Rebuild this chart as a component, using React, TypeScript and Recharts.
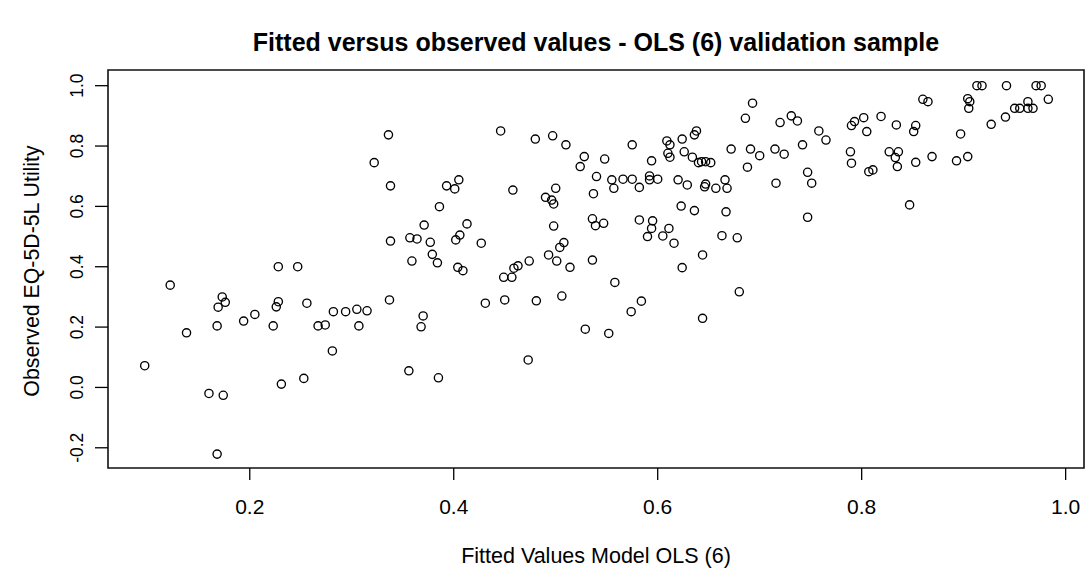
import React from "react";
import { ScatterChart, Scatter, XAxis, YAxis, ReferenceArea } from "recharts";

document.body.style.margin = "0";

const FONT = "'Liberation Sans', Arial, Helvetica, sans-serif";

const fitted = [
  0.122, 0.097, 0.138, 0.173, 0.169, 0.176, 0.168, 0.194, 0.205, 0.228, 0.226, 0.223, 0.256,
  0.267, 0.274, 0.282, 0.294, 0.281, 0.253, 0.231, 0.160, 0.174, 0.168, 0.228, 0.247,
  0.305, 0.315, 0.307, 0.337, 0.370, 0.368, 0.356, 0.385, 0.431, 0.450, 0.481, 0.506, 0.529,
  0.473, 0.449, 0.457, 0.558, 0.584, 0.574, 0.552, 0.680, 0.644,
  0.336, 0.322, 0.338, 0.446, 0.480, 0.497, 0.510, 0.528, 0.524, 0.540, 0.537, 0.458, 0.393,
  0.401, 0.405, 0.386, 0.371, 0.413, 0.357, 0.364, 0.338, 0.377, 0.402, 0.406, 0.427, 0.379,
  0.384, 0.359, 0.404, 0.409, 0.459, 0.463, 0.474, 0.493, 0.501, 0.514, 0.490, 0.496, 0.498,
  0.500, 0.498, 0.508, 0.504, 0.536, 0.539, 0.536,
  0.693, 0.686, 0.720, 0.731, 0.737, 0.758, 0.765, 0.742, 0.715, 0.724, 0.691, 0.700, 0.672,
  0.688, 0.747, 0.751, 0.716, 0.747, 0.638, 0.636, 0.624, 0.609, 0.612, 0.575, 0.610, 0.612,
  0.626, 0.634, 0.640, 0.643, 0.647, 0.652, 0.594, 0.548, 0.555, 0.557, 0.566, 0.575, 0.582,
  0.592, 0.592, 0.600, 0.620, 0.629, 0.647, 0.646, 0.657, 0.666, 0.668, 0.623, 0.636, 0.667,
  0.547, 0.582, 0.595, 0.594, 0.611, 0.605, 0.590, 0.616, 0.663, 0.678, 0.644, 0.624,
  0.913, 0.918, 0.942, 0.971, 0.976, 0.860, 0.865, 0.904, 0.906, 0.905, 0.963, 0.983, 0.950,
  0.955, 0.963, 0.968, 0.941, 0.927, 0.802, 0.793, 0.790, 0.819, 0.834, 0.805, 0.853, 0.851,
  0.897, 0.789, 0.790, 0.827, 0.836, 0.833, 0.835, 0.807, 0.811, 0.853, 0.869, 0.893, 0.904,
  0.847,
];

const observed = [
  0.339, 0.072, 0.181, 0.300, 0.266, 0.282, 0.204, 0.220, 0.242, 0.284, 0.267, 0.204, 0.279,
  0.204, 0.207, 0.251, 0.251, 0.121, 0.030, 0.011, -0.020, -0.026, -0.221, 0.400, 0.400,
  0.259, 0.254, 0.204, 0.290, 0.237, 0.201, 0.055, 0.032, 0.279, 0.290, 0.287, 0.303, 0.193,
  0.091, 0.365, 0.365, 0.348, 0.286, 0.251, 0.179, 0.317, 0.229,
  0.837, 0.745, 0.668, 0.850, 0.823, 0.834, 0.804, 0.765, 0.732, 0.699, 0.642, 0.654, 0.668,
  0.658, 0.688, 0.599, 0.538, 0.542, 0.496, 0.492, 0.485, 0.481, 0.489, 0.505, 0.478, 0.441,
  0.413, 0.419, 0.398, 0.387, 0.395, 0.403, 0.419, 0.439, 0.419, 0.398, 0.630, 0.621, 0.608,
  0.660, 0.535, 0.480, 0.464, 0.559, 0.536, 0.422,
  0.942, 0.892, 0.878, 0.900, 0.883, 0.850, 0.820, 0.804, 0.790, 0.773, 0.790, 0.768, 0.790,
  0.730, 0.713, 0.677, 0.677, 0.564, 0.850, 0.837, 0.823, 0.817, 0.804, 0.804, 0.776, 0.763,
  0.781, 0.763, 0.745, 0.748, 0.748, 0.745, 0.751, 0.757, 0.688, 0.660, 0.690, 0.690, 0.663,
  0.701, 0.688, 0.690, 0.688, 0.671, 0.674, 0.665, 0.660, 0.688, 0.660, 0.601, 0.586, 0.582,
  0.544, 0.555, 0.552, 0.527, 0.527, 0.502, 0.500, 0.478, 0.503, 0.496, 0.439, 0.397,
  1.000, 1.000, 1.000, 1.000, 1.000, 0.955, 0.947, 0.957, 0.947, 0.925, 0.947, 0.955, 0.925,
  0.925, 0.925, 0.925, 0.896, 0.872, 0.894, 0.881, 0.868, 0.898, 0.870, 0.848, 0.868, 0.848,
  0.840, 0.781, 0.743, 0.781, 0.781, 0.762, 0.732, 0.715, 0.721, 0.746, 0.765, 0.751, 0.765,
  0.605,
];

const xTicks = [0.2, 0.4, 0.6, 0.8, 1.0];
const yTicks = [-0.2, 0.0, 0.2, 0.4, 0.6, 0.8, 1.0];
const xDomain = [0.061, 1.018];
const yDomain = [-0.267, 1.052];

const points = fitted.map((x, i) => ({ x, y: observed[i] }));

function Ring(props: any) {
  const { cx, cy } = props;
  if (cx == null || cy == null) return null;
  return <circle cx={cx} cy={cy} r={4.1} fill="none" stroke="#000" strokeWidth={1.35} />;
}

function XTick(props: any) {
  const { x, payload } = props;
  return (
    <text x={x} y={514} textAnchor="middle" fontSize={21} fontFamily={FONT} fill="#000">
      {payload.value.toFixed(1)}
    </text>
  );
}

function YTick(props: any) {
  const { y, payload } = props;
  return (
    <text transform={`translate(83,${y}) rotate(-90)`} textAnchor="middle" fontSize={17.5} fontFamily={FONT} fill="#000">
      {payload.value.toFixed(1)}
    </text>
  );
}

export default function App() {
  return (
    <div style={{ position: "relative", width: 1089, height: 577, background: "#fff" }}>
      <ScatterChart width={1089} height={577} margin={{ top: 70, right: 5, bottom: 49, left: 0 }}>
        <XAxis
          type="number" dataKey="x" domain={xDomain} ticks={xTicks} allowDataOverflow
          axisLine={false} tickSize={12} tickLine={{ stroke: "#000", strokeWidth: 1.3 }}
          tick={<XTick />} height={60} interval={0}
          label={{
            content: () => (
              <text x={596} y={563} textAnchor="middle" fontSize={21.5} fontFamily={FONT} fill="#000">
                Fitted Values Model OLS (6)
              </text>
            ),
          }}
        />
        <YAxis
          type="number" dataKey="y" domain={yDomain} ticks={yTicks} allowDataOverflow
          axisLine={false} tickSize={13} tickLine={{ stroke: "#000", strokeWidth: 1.3 }}
          tick={<YTick />} width={108} interval={0}
          label={{
            content: () => (
              <text transform="translate(39,271) rotate(-90)" textAnchor="middle" fontSize={21.3} fontFamily={FONT} fill="#000">
                Observed EQ-5D-5L Utility
              </text>
            ),
          }}
        />
        <ReferenceArea
          x1={xDomain[0]} x2={xDomain[1]} y1={yDomain[0]} y2={yDomain[1]}
          fill="none" stroke="#111" strokeWidth={1.6} fillOpacity={0}
        />
        <Scatter data={points} shape={<Ring />} isAnimationActive={false} />
      </ScatterChart>
      <div
        style={{
          position: "absolute", top: 28, left: 108, width: 976, textAlign: "center",
          fontFamily: FONT, fontWeight: 700, fontSize: 25, color: "#000", lineHeight: "28px",
        }}
      >
        Fitted versus observed values - OLS (6) validation sample
      </div>
    </div>
  );
}
